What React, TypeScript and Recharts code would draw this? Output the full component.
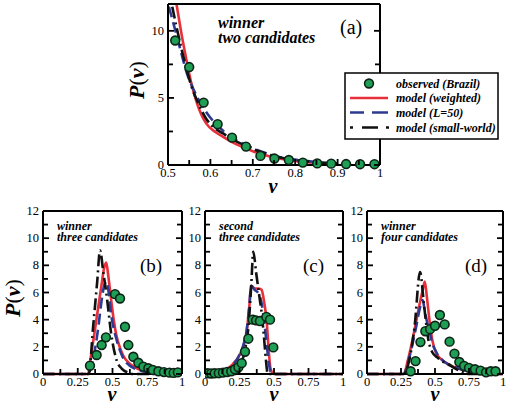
import React from 'react';
import { ComposedChart, Line, Scatter, XAxis, YAxis } from 'recharts';

const FONT = 'Liberation Serif, DejaVu Serif, Times New Roman, serif';
const RED = '#e8303a';
const BLUE = '#2e3a92';
const BLACK = '#111111';
const GREEN = '#1f9e55';

// ---------- panel (a): winner, two candidates ----------
const aObsV = [0.517, 0.55, 0.584, 0.617, 0.651, 0.684, 0.718, 0.751, 0.785, 0.818, 0.852, 0.885, 0.92, 0.953, 0.987];
const aObsP = [9.28, 7.3, 4.65, 3.04, 2.04, 1.37, 0.68, 0.48, 0.37, 0.18, 0.12, 0.1, 0.07, 0.06, 0.06];
const aRedV = [0.505, 0.515, 0.52, 0.53, 0.545, 0.555, 0.57, 0.59, 0.61, 0.63, 0.65, 0.675, 0.7, 0.73, 0.76, 0.8, 0.85];
const aRedP = [14.5, 13, 12.0, 10.1, 7.6, 6.1, 4.45, 3.1, 2.5, 2.1, 1.73, 1.35, 1.03, 0.73, 0.5, 0.3, 0.15];
const aBlueV = [0.502, 0.515, 0.53, 0.545, 0.555, 0.57, 0.59, 0.61, 0.63, 0.65, 0.675, 0.7, 0.73, 0.76, 0.8, 0.85, 0.9];
const aBlueP = [11.8, 10.3, 8.5, 6.8, 6.0, 5.0, 3.95, 3.15, 2.55, 2.05, 1.62, 1.25, 0.9, 0.62, 0.4, 0.22, 0.1];
const aSwV = [0.51, 0.52, 0.53, 0.545, 0.555, 0.57, 0.59, 0.61, 0.63, 0.65, 0.675, 0.7, 0.73, 0.76, 0.8, 0.85, 0.9];
const aSwP = [11.8, 10.3, 8.9, 7.0, 5.9, 4.7, 3.45, 2.75, 2.35, 1.95, 1.55, 1.2, 0.85, 0.6, 0.38, 0.2, 0.1];

// ---------- panel (b): winner, three candidates ----------
const bObsV = [0.338, 0.386, 0.422, 0.453, 0.518, 0.554, 0.59, 0.614, 0.65, 0.686, 0.722, 0.758, 0.79, 0.83, 0.87, 0.91, 0.94, 0.97];
const bObsP = [0.61, 1.4, 2.13, 2.7, 5.88, 5.56, 3.48, 2.13, 1.27, 0.83, 0.54, 0.42, 0.3, 0.2, 0.14, 0.1, 0.08, 0.12];
const bModV = [0, 0.325, 0.34, 0.37, 0.4, 0.42, 0.44, 0.455, 0.47, 0.49, 0.51, 0.53, 0.555, 0.58, 0.62, 0.66, 0.7, 0.75, 0.8, 1];
const bRedP = [0, 0, 1.0, 3.0, 5.1, 6.5, 7.8, 8.2, 7.2, 5.5, 3.9, 2.75, 1.9, 1.3, 0.8, 0.5, 0.3, 0.15, 0.05, 0];
const bBlueP = [0, 0, 0.3, 1.6, 3.6, 5.3, 6.5, 6.8, 6.2, 4.4, 3.3, 2.5, 1.7, 1.1, 0.65, 0.4, 0.25, 0.12, 0.05, 0];
const bSwV = [0, 0.33, 0.36, 0.39, 0.41, 0.435, 0.46, 0.49, 0.53, 0.566, 0.614, 0.65, 1];
const bSwP = [0, 0, 3.4, 6.8, 9.1, 7.4, 5.6, 3.0, 1.0, 0.4, 0.1, 0, 0];

// ---------- panel (c): second, three candidates ----------
const cObsV = [0.02, 0.045, 0.07, 0.1, 0.13, 0.16, 0.19, 0.217, 0.242, 0.266, 0.29, 0.314, 0.345, 0.37, 0.398, 0.445, 0.471, 0.495];
const cObsP = [0.05, 0.04, 0.05, 0.06, 0.1, 0.15, 0.2, 0.35, 0.5, 0.8, 1.64, 2.6, 4.0, 3.95, 3.9, 4.2, 4.0, 1.96];
const cModV = [0, 0.05, 0.1, 0.15, 0.2, 0.25, 0.28, 0.3, 0.32, 0.335, 0.36, 0.39, 0.41, 0.43, 0.447, 0.46, 0.475, 0.5, 1];
const cRedP = [0, 0.02, 0.1, 0.3, 0.7, 1.4, 2.1, 3.0, 4.8, 6.5, 6.3, 6.3, 6.2, 5.2, 3.9, 2.0, 0.4, 0, 0];
const cBlueP = [0, 0.02, 0.08, 0.25, 0.65, 1.4, 2.2, 3.1, 4.9, 6.5, 6.2, 5.9, 5.2, 3.8, 2.2, 1.0, 0.2, 0, 0];
const cSwV = [0, 0.22, 0.25, 0.29, 0.315, 0.335, 0.35, 0.37, 0.39, 0.41, 0.425, 0.44, 0.455, 1];
const cSwP = [0, 0, 0.5, 1.8, 3.5, 6.5, 9.0, 7.5, 6.0, 4.5, 3.0, 1.2, 0, 0];

// ---------- panel (d): winner, four candidates ----------
const dObsV = [0.321, 0.357, 0.393, 0.429, 0.464, 0.5, 0.536, 0.571, 0.607, 0.643, 0.679, 0.714, 0.75, 0.794, 0.835, 0.875, 0.91, 0.945];
const dObsP = [0.2, 0.95, 2.35, 3.15, 3.3, 3.55, 4.34, 3.65, 2.38, 1.5, 0.88, 0.6, 0.45, 0.35, 0.25, 0.12, 0.2, 0.2];
const dModV = [0, 0.27, 0.3, 0.33, 0.36, 0.39, 0.41, 0.425, 0.44, 0.46, 0.48, 0.51, 0.55, 0.6, 0.65, 0.7, 0.75, 0.8, 0.85, 1];
const dRedP = [0, 0, 1.0, 2.3, 3.8, 5.3, 6.2, 6.8, 5.7, 3.9, 2.5, 1.5, 1.05, 0.7, 0.48, 0.32, 0.2, 0.12, 0.05, 0];
const dBlueP = [0, 0, 0.8, 2.0, 3.4, 4.9, 5.45, 4.6, 3.9, 3.1, 2.3, 1.6, 1.05, 0.7, 0.5, 0.3, 0.18, 0.1, 0.05, 0];
const dSwV = [0, 0.27, 0.3, 0.35, 0.39, 0.42, 0.45, 0.48, 0.52, 0.56, 0.6, 0.65, 0.7, 0.75, 1];
const dSwP = [0, 0, 0.6, 3.5, 7.5, 5.0, 2.6, 1.6, 1.2, 0.9, 0.7, 0.4, 0.15, 0, 0];

// ---------- ticks ----------
const aXTicks = [0.5, 0.55, 0.6, 0.65, 0.7, 0.75, 0.8, 0.85, 0.9, 0.95, 1];
const aXLabels = [0.5, 0.6, 0.7, 0.8, 0.9, 1];
const aYTicks = [0, 2.5, 5, 7.5, 10];
const aYLabels = [0, 5, 10];
const lowXTicks = [0, 0.125, 0.25, 0.375, 0.5, 0.625, 0.75, 0.875, 1];
const lowXLabels = [0, 0.25, 0.5, 0.75, 1];
const lowYTicks = [0, 1, 2, 3, 4, 5, 6, 7, 8, 9, 10, 11, 12];
const lowYLabels = [0, 2, 4, 6, 8, 10, 12];

const legendItems = ['observed (Brazil)', 'model (weighted)', 'model (L=50)', 'model (small-world)'];

const zip = (xs: number[], ys: number[]) => xs.map((x, i) => ({ x, y: ys[i] }));
const has = (arr: number[], v: number) => arr.some((a) => Math.abs(a - v) < 1e-9);
const fmt = (v: number) => String(v);

const ML = 34, MR = 4, MT = 10, MB = 22;

type PanelProps = {
  left: number; top: number; plotW: number; plotH: number;
  xDomain: [number, number]; xTicks: number[]; xLabels: number[];
  yTicks: number[]; yLabels: number[];
  obsV: number[]; obsP: number[];
  redV: number[]; redP: number[];
  blueV: number[]; blueP: number[];
  swV: number[]; swP: number[];
  clip?: boolean;
};

function Panel(p: PanelProps) {
  const W = p.plotW + ML + MR;
  const H = p.plotH + MT + MB;
  const tickStroke = { stroke: '#000', strokeWidth: 1.8 };
  const bottomTick = (t: any) => {
    const v = t.payload.value;
    const major = has(p.xLabels, v);
    return (
      <g>
        <line x1={t.x} y1={t.y} x2={t.x} y2={t.y - (major ? 6 : 5)} {...tickStroke} />
        {major && (
          <text x={t.x} y={t.y + 11.5} textAnchor="middle" style={{ fontFamily: FONT }} fontSize={12.5} fill="#000">{fmt(v)}</text>
        )}
      </g>
    );
  };
  const topTick = (t: any) => {
    const v = t.payload.value;
    const major = has(p.xLabels, v);
    return <line x1={t.x} y1={t.y} x2={t.x} y2={t.y + (major ? 6 : 5)} {...tickStroke} />;
  };
  const leftTick = (t: any) => {
    const v = t.payload.value;
    const major = has(p.yLabels, v);
    return (
      <g>
        <line x1={t.x} y1={t.y} x2={t.x + (major ? 6 : 5)} y2={t.y} {...tickStroke} />
        {major && (
          <text x={t.x - 4} y={t.y + 4} textAnchor="end" style={{ fontFamily: FONT }} fontSize={12.5} fill="#000">{fmt(v)}</text>
        )}
      </g>
    );
  };
  const rightTick = (t: any) => {
    const v = t.payload.value;
    const major = has(p.yLabels, v);
    return <line x1={t.x} y1={t.y} x2={t.x - (major ? 6 : 5)} y2={t.y} {...tickStroke} />;
  };
  const axisLine = { stroke: '#000', strokeWidth: 2 };
  const dot = (s: any) => (
    <circle cx={s.cx} cy={s.cy} r={4.4} fill={GREEN} stroke="#0c2416" strokeWidth={1.6} />
  );
  return (
    <div style={{ position: 'absolute', left: p.left - ML, top: p.top - MT }}>
      <ComposedChart width={W} height={H} margin={{ top: 0, right: 0, bottom: 0, left: 0 }}>
        <XAxis xAxisId={0} dataKey="x" type="number" domain={p.xDomain} ticks={p.xTicks} interval={0}
          allowDataOverflow height={MB} tickSize={0} tickMargin={0} tickLine={false} axisLine={axisLine} tick={bottomTick} />
        <XAxis xAxisId="top" orientation="top" dataKey="x" type="number" domain={p.xDomain} ticks={p.xTicks} interval={0}
          height={MT} tickSize={0} tickMargin={0} tickLine={false} axisLine={axisLine} tick={topTick} />
        <YAxis yAxisId={0} type="number" domain={[0, 12]} ticks={p.yTicks} interval={0} allowDataOverflow={!!p.clip}
          width={ML} tickSize={0} tickMargin={0} tickLine={false} axisLine={axisLine} tick={leftTick} />
        <YAxis yAxisId="right" orientation="right" type="number" domain={[0, 12]} ticks={p.yTicks} interval={0}
          width={MR} tickSize={0} tickMargin={0} tickLine={false} axisLine={axisLine} tick={rightTick} />
        <Scatter xAxisId={0} yAxisId="right" data={zip(p.obsV, p.obsP)} dataKey="y" shape={dot} isAnimationActive={false} />
        <Line xAxisId={0} yAxisId={0} data={zip(p.redV, p.redP)} dataKey="y" type="monotone" stroke={RED}
          strokeWidth={2.6} dot={false} activeDot={false} isAnimationActive={false} />
        <Line xAxisId={0} yAxisId={0} data={zip(p.blueV, p.blueP)} dataKey="y" type="monotone" stroke={BLUE}
          strokeWidth={2.6} strokeDasharray="11 5" dot={false} activeDot={false} isAnimationActive={false} />
        <Line xAxisId={0} yAxisId={0} data={zip(p.swV, p.swP)} dataKey="y" type="monotone" stroke={BLACK}
          strokeWidth={2.6} strokeDasharray="12 4 2 4" dot={false} activeDot={false} isAnimationActive={false} />
      </ComposedChart>
    </div>
  );
}

const bi = { style: { fontFamily: FONT, fontWeight: 'bold' as const, fontStyle: 'italic' as const }, fill: '#000' };
const rm = { style: { fontFamily: FONT }, fill: '#000' };

function Overlay() {
  const rows = [87.5, 102, 116.5, 131.5];
  return (
    <svg width={512} height={406} style={{ position: 'absolute', left: 0, top: 0, pointerEvents: 'none' }}>
      {/* axis titles */}
      <text x={144} y={80} transform="rotate(-90 144 80)" textAnchor="middle" {...rm} fontSize={22}>
        <tspan fontWeight="bold" fontStyle="italic">P</tspan>(<tspan fontWeight="bold" fontStyle="italic">ν</tspan>)
      </text>
      <text x={20} y={298} transform="rotate(-90 20 298)" textAnchor="middle" {...rm} fontSize={22}>
        <tspan fontWeight="bold" fontStyle="italic">P</tspan>(<tspan fontWeight="bold" fontStyle="italic">ν</tspan>)
      </text>
      <text x={273} y={193} textAnchor="middle" {...bi} fontSize={20}>ν</text>
      <text x={112} y={401} textAnchor="middle" {...bi} fontSize={20}>ν</text>
      <text x={274} y={401} textAnchor="middle" {...bi} fontSize={20}>ν</text>
      <text x={435} y={401} textAnchor="middle" {...bi} fontSize={20}>ν</text>

      {/* annotations */}
      <text x={218} y={28} {...bi} fontSize={16}>winner</text>
      <text x={218} y={43} {...bi} fontSize={16}>two candidates</text>
      <text x={340} y={34} {...rm} fontSize={20}>(a)</text>

      <text x={57} y={229.5} {...bi} fontSize={12}>winner</text>
      <text x={57} y={240.5} {...bi} fontSize={12}>three candidates</text>
      <text x={140} y={272} {...rm} fontSize={19}>(b)</text>

      <text x={219} y={229.5} {...bi} fontSize={12}>second</text>
      <text x={219} y={240.5} {...bi} fontSize={12}>three candidates</text>
      <text x={303} y={272} {...rm} fontSize={19}>(c)</text>

      <text x={381} y={229.5} {...bi} fontSize={12}>winner</text>
      <text x={381} y={240.5} {...bi} fontSize={12}>four candidates</text>
      <text x={465} y={272} {...rm} fontSize={19}>(d)</text>

      {/* legend */}
      <rect x={345} y={73} width={153} height={66} fill="#fff" stroke="#000" strokeWidth={1.5} />
      <circle cx={369} cy={83.5} r={4.4} fill={GREEN} stroke="#0c2416" strokeWidth={1.6} />
      <line x1={350} y1={98} x2={388} y2={98} stroke={RED} strokeWidth={2.6} />
      <line x1={350} y1={112.5} x2={388} y2={112.5} stroke={BLUE} strokeWidth={2.6} strokeDasharray="14 8 16" />
      <line x1={350} y1={127.5} x2={390} y2={127.5} stroke={BLACK} strokeWidth={2.6} strokeDasharray="3 9 16 8 3" />
      {legendItems.map((t, i) => (
        <text key={t} x={396} y={rows[i]} {...bi} fontSize={12}>{t}</text>
      ))}
    </svg>
  );
}

export default function App() {
  return (
    <div style={{ position: 'absolute', left: 0, top: 0, width: 512, height: 406, background: '#fff', overflow: 'hidden' }}>
      <Panel left={168} top={4} plotW={212} plotH={161} xDomain={[0.5, 1]} xTicks={aXTicks} xLabels={aXLabels}
        yTicks={aYTicks} yLabels={aYLabels} obsV={aObsV} obsP={aObsP} redV={aRedV} redP={aRedP}
        blueV={aBlueV} blueP={aBlueP} swV={aSwV} swP={aSwP} clip />
      <Panel left={43} top={211} plotW={139} plotH={163} xDomain={[0, 1]} xTicks={lowXTicks} xLabels={lowXLabels}
        yTicks={lowYTicks} yLabels={lowYLabels} obsV={bObsV} obsP={bObsP} redV={bModV} redP={bRedP}
        blueV={bModV} blueP={bBlueP} swV={bSwV} swP={bSwP} />
      <Panel left={205} top={211} plotW={138} plotH={163} xDomain={[0, 1]} xTicks={lowXTicks} xLabels={lowXLabels}
        yTicks={lowYTicks} yLabels={lowYLabels} obsV={cObsV} obsP={cObsP} redV={cModV} redP={cRedP}
        blueV={cModV} blueP={cBlueP} swV={cSwV} swP={cSwP} />
      <Panel left={367} top={211} plotW={136} plotH={163} xDomain={[0, 1]} xTicks={lowXTicks} xLabels={lowXLabels}
        yTicks={lowYTicks} yLabels={lowYLabels} obsV={dObsV} obsP={dObsP} redV={dModV} redP={dRedP}
        blueV={dModV} blueP={dBlueP} swV={dSwV} swP={dSwP} />
      <Overlay />
    </div>
  );
}
